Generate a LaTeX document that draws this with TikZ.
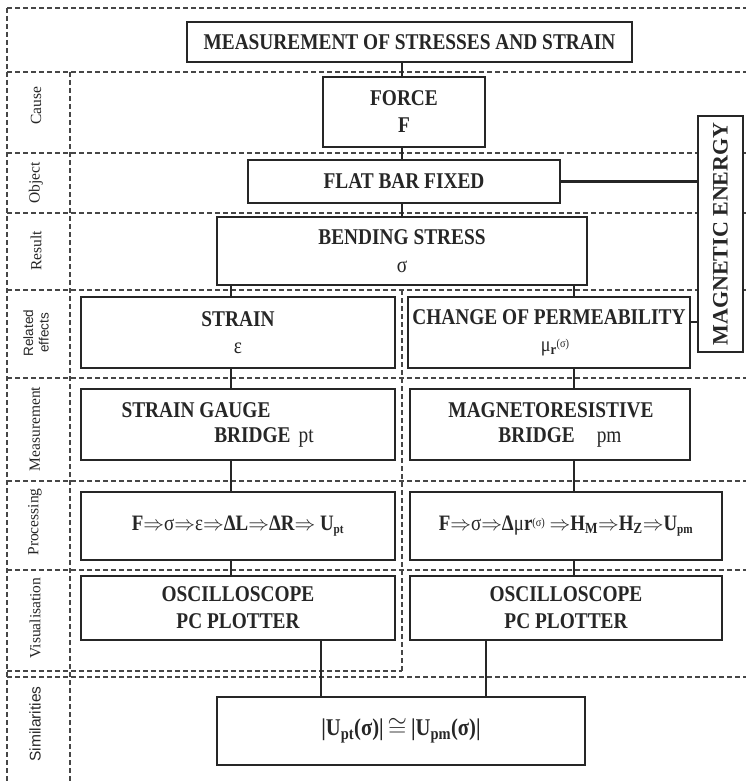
\documentclass[tikz,border=0pt]{standalone}
\usepackage{fontspec}
\setmainfont{Liberation Serif}
\newfontfamily\boxfont{Liberation Serif}[FakeStretch=0.86]
\newfontfamily\labelsans{Liberation Sans}
\usetikzlibrary{positioning}
\definecolor{inkgray}{RGB}{38,38,38}
\definecolor{framegray}{RGB}{70,70,70}
\tikzset{
    % Boxes
    stagebox/.style={
        rectangle,
        draw=inkgray,
        line width=1.9pt,
        fill=white,
        inner sep=0pt,
        align=center,
        font=\boxfont\fontsize{22.5}{27}\selectfont\bfseries
    },
    % Text inside boxes
    boxtext/.style={
        inner sep=0pt,
        align=center,
        font=\boxfont\fontsize{22.5}{27}\selectfont\bfseries
    },
    chaintext/.style={
        inner sep=0pt,
        font=\boxfont\fontsize{22}{24}\selectfont\bfseries
    },
    % Row labels
    rowlabel/.style={
        rotate=90,
        inner sep=0pt,
        align=center,
        font=\fontsize{15.5}{17}\selectfont
    },
    % Lines
    gridline/.style={
        draw=framegray,
        line width=1.2pt,
        dash pattern=on 5pt off 3pt
    },
    link/.style={
        draw=inkgray,
        line width=2.1pt
    }
}

\begin{document}
\begin{tikzpicture}[x=1pt, y=-1pt, every node/.style={text=inkgray}]

    % Canvas
    \useasboundingbox (0,0) rectangle (746,781);

    % Dashed grid
    \draw[gridline] (7,8) -- (752,8);
    \draw[gridline] (7,8) -- (7,786);
    \foreach \ry in {72,153,213,290,378,481,570,677}
        \draw[gridline] (7,\ry) -- (752,\ry);
    \draw[gridline] (70,72) -- (70,786);
    \draw[gridline] (402,290) -- (402,671);
    \draw[gridline] (7,671) -- (402,671);

    % Row labels
    \node[rowlabel] (lcause) at (36,106) {Cause};
    \node[rowlabel] (lobject) at (36,183) {Object};
    \node[rowlabel] (lresult) at (36,251) {Result};
    \node[rowlabel, font=\labelsans\fontsize{13.5}{15.5}\selectfont] (lrelated) at (36,333) {Related\\effects};
    \node[rowlabel] (lmeasure) at (35,429) {Measurement};
    \node[rowlabel] (lprocess) at (35,522) {Processing};
    \node[rowlabel] (lvisual) at (35,618) {Visualisation};
    \node[rowlabel, font=\labelsans\fontsize{15.5}{17}\selectfont] (lsimilar) at (35,724) {Similarities};

    % Main chain
    \node[stagebox, minimum width=445pt, minimum height=40pt] (title) at (409.5,42) {MEASUREMENT OF STRESSES AND STRAIN};
    \node[stagebox, minimum width=162pt, minimum height=70pt] (force) at (404,112) {FORCE\\F};
    \node[stagebox, minimum width=312pt, minimum height=43pt] (flat) at (404,181.5) {FLAT BAR FIXED};
    \node[stagebox, minimum width=370pt, minimum height=68pt] (bending) at (402,251) {BENDING STRESS\\[1pt]{\mdseries σ}};

    % Magnetic side
    \node[stagebox, minimum width=45pt, minimum height=236pt] (mag) at (720.5,234) {};
    \node[boxtext, rotate=90, font=\fontsize{22}{24}\selectfont\bfseries] (magtext) at (mag.center) {MAGNETIC ENERGY};

    % Related effects
    \node[stagebox, minimum width=314pt, minimum height=71pt] (strain) at (238,332.5) {STRAIN\\{\mdseries ε}};
    \node[stagebox, minimum width=282pt, minimum height=71pt] (perm) at (549,332.5) {CHANGE OF PERMEABILITY\\\hspace{12pt}{\mdseries\fontsize{21}{24}\selectfont μ\textsubscript{\bfseries r}\raisebox{4pt}{\fontsize{12}{13}\selectfont(σ)}}};

    % Measurement
    \node[stagebox, minimum width=314pt, minimum height=71pt] (gauge) at (238,424.5) {};
    \node[boxtext] (gaugetop) at (196,410) {STRAIN GAUGE};
    \node[boxtext] (gaugebot) at (264,437) {BRIDGE\hspace{8pt}{\mdseries pt}};
    \node[stagebox, minimum width=280pt, minimum height=71pt] (mr) at (550,424.5) {};
    \node[boxtext] (mrtop) at (551,410) {MAGNETORESISTIVE};
    \node[boxtext] (mrbot) at (560,437) {BRIDGE\hspace{22pt}{\mdseries pm}};

    % Processing
    \node[stagebox, minimum width=314pt, minimum height=68pt] (procL) at (238,526) {};
    \node[chaintext] (procLtext) at (procL.center) {F$\Rightarrow${\mdseries σ}$\Rightarrow${\mdseries ε}$\Rightarrow$ΔL$\Rightarrow$ΔR$\Rightarrow$ U\textsubscript{\fontsize{13}{14}\selectfont pt}};
    \node[stagebox, minimum width=312pt, minimum height=68pt] (procR) at (566,526) {};
    \node[chaintext] (procRtext) at (procR.center) {F$\Rightarrow${\mdseries σ}$\Rightarrow$Δ{\mdseries μ}r\raisebox{4pt}{\mdseries\fontsize{12}{13}\selectfont(σ)} $\Rightarrow$H\textsubscript{M}$\Rightarrow$H\textsubscript{Z}$\Rightarrow$U\textsubscript{\fontsize{13}{14}\selectfont pm}};

    % Visualisation
    \node[stagebox, minimum width=314pt, minimum height=64pt] (visL) at (238,608) {OSCILLOSCOPE\\PC PLOTTER};
    \node[stagebox, minimum width=312pt, minimum height=64pt] (visR) at (566,608) {OSCILLOSCOPE\\PC PLOTTER};

    % Similarities
    \node[stagebox, minimum width=368pt, minimum height=68pt, font=\boxfont\fontsize{24}{26}\selectfont\bfseries] (simil) at (401,731) {|U\textsubscript{pt}(σ)|\,$\cong$\,|U\textsubscript{pm}(σ)|};

    % Connector columns
    \coordinate (maincol) at (402,0);
    \coordinate (leftcol) at (231,0);
    \coordinate (rightcol) at (574,0);
    \coordinate (simL) at (321,0);
    \coordinate (simR) at (486,0);
    \coordinate (permlink) at (0,322);

    % Connectors
    \draw[link] (title.south -| maincol) -- (force.north -| maincol);
    \draw[link] (force.south -| maincol) -- (flat.north -| maincol);
    \draw[link] (flat.south -| maincol) -- (bending.north -| maincol);
    \draw[link] (flat.east) -- (flat.east -| mag.west);
    \draw[link] (perm.east |- permlink) -- (mag.west |- permlink);
    \draw[link] (bending.south -| leftcol) -- (strain.north -| leftcol);
    \draw[link] (bending.south -| rightcol) -- (perm.north -| rightcol);
    \draw[link] (strain.south -| leftcol) -- (gauge.north -| leftcol);
    \draw[link] (perm.south -| rightcol) -- (mr.north -| rightcol);
    \draw[link] (gauge.south -| leftcol) -- (procL.north -| leftcol);
    \draw[link] (mr.south -| rightcol) -- (procR.north -| rightcol);
    \draw[link] (procL.south -| leftcol) -- (visL.north -| leftcol);
    \draw[link] (procR.south -| rightcol) -- (visR.north -| rightcol);
    \draw[link] (visL.south -| simL) -- (simil.north -| simL);
    \draw[link] (visR.south -| simR) -- (simil.north -| simR);

\end{tikzpicture}
\end{document}
